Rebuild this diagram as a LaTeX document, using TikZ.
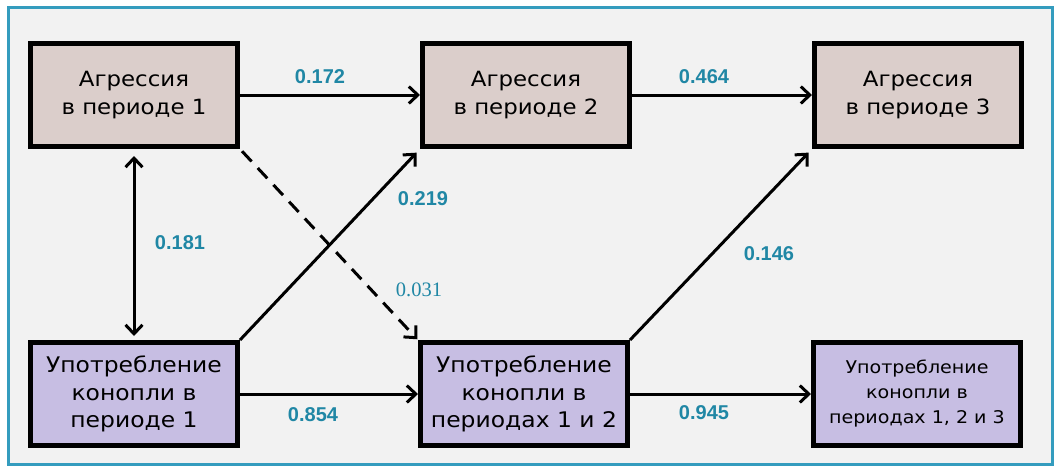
\documentclass[tikz,border=0pt]{standalone}
\usepackage{fontspec}
\setmainfont{DejaVu Sans}[FakeStretch=1.09]
\newfontfamily\coeffont{Liberation Sans}
\newfontfamily\serifcoef{Liberation Serif}
\usetikzlibrary{arrows.meta, positioning}
\definecolor{aggrfill}{RGB}{219,206,203}
\definecolor{canfill}{RGB}{199,190,227}
\definecolor{coefcol}{RGB}{32,135,165}
\definecolor{framecol}{RGB}{52,156,190}
\definecolor{panelbg}{RGB}{242,242,242}
\tikzset{
  >={Straight Barb[length=9pt,width=17pt]},
  varbox/.style={draw=black, line width=5pt, minimum width=207pt, minimum height=103pt, align=center, inner sep=2pt},
  aggr/.style={varbox, fill=aggrfill, font=\fontsize{21}{28}\selectfont},
  cann/.style={varbox, fill=canfill, font=\fontsize{21.5}{27.5}\selectfont},
  link/.style={line width=3pt, ->},
  coef/.style={text=coefcol, inner sep=0pt, font=\coeffont\bfseries\fontsize{20}{22}\selectfont},
}

\begin{document}
\begin{tikzpicture}[x=1pt,y=-1pt]
\fill[white] (0,0) rectangle (1059,475);
\useasboundingbox (0,0) rectangle (1059,475);
\draw[draw=framecol, line width=3pt, fill=panelbg] (8,7) rectangle (1052,464);

\node[aggr] (a1) at (134,95) {Агрессия\\в периоде 1};
\node[aggr] (a2) at (526,95) {Агрессия\\в периоде 2};
\node[aggr] (a3) at (918,95) {Агрессия\\в периоде 3};
\node[cann] (c1) at (134,394) {Употребление\\конопли в\\периоде 1};
\node[cann] (c2) at (524,394) {Употребление\\конопли в\\периодах 1 и 2};
\node[cann, font=\fontsize{17.5}{25}\selectfont] (c3) at (917,394) {Употребление\\конопли в\\периодах 1, 2 и 3};

\draw[link] (a1) -- (a2);
\draw[link] (a2) -- (a3);
\draw[link] (c1) -- (c2);
\draw[link] (c2) -- (c3);
\draw[link, <->, shorten <=7pt, shorten >=4pt] (a1.south) -- (c1.north);
\draw[link, shorten >=5pt] (c1.north east) -- (a2.south west);
\draw[link, shorten >=5pt] (c2.north east) -- (a3.south west);
\draw[link, dash pattern=on 14pt off 9pt, shorten <=3pt, shorten >=1pt] (a1.south east) -- (c2.north west);

\node[coef] (k12) at (320,77) {0.172};
\node[coef] (k23) at (704,77) {0.464};
\node[coef] (k11) at (180,243) {0.181};
\node[coef] (kc1a2) at (423,199) {0.219};
\node[coef] (kc2a3) at (769,254) {0.146};
\node[coef, font=\serifcoef\fontsize{20.5}{22}\selectfont] (ka1c2) at (419,290) {0.031};
\node[coef] (kc12) at (313,415) {0.854};
\node[coef] (kc23) at (704,413) {0.945};
\end{tikzpicture}
\end{document}
